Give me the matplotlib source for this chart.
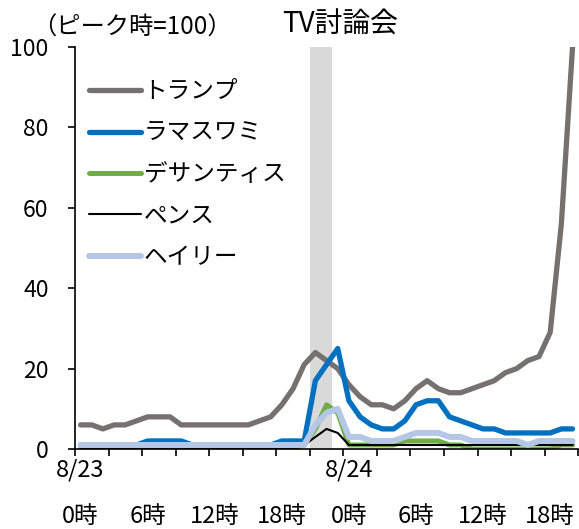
import matplotlib
matplotlib.use("Agg")
import matplotlib.pyplot as plt
import numpy as np

plt.rcParams['font.family'] = ['Noto Sans CJK JP', 'DejaVu Sans']

# hourly index: 8/23 0時 .. 8/24 20時
hours = np.arange(45)

trump = [6, 6, 5, 6, 6, 7, 8, 8, 8, 6, 6, 6, 6, 6, 6, 6, 7, 8, 11, 15,
         21, 24, 22, 20, 16, 13, 11, 11, 10, 12, 15, 17, 15, 14, 14, 15, 16, 17, 19, 20,
         22, 23, 29, 56, 100]
ramaswamy = [1, 1, 1, 1, 1, 1, 2, 2, 2, 2, 1, 1, 1, 1, 1, 1, 1, 1, 2, 2,
             2, 17, 21, 25, 12, 8, 6, 5, 5, 7, 11, 12, 12, 8, 7, 6, 5, 5, 4, 4,
             4, 4, 4, 5, 5]
desantis = [0, 0, 0, 0, 0, 0, 0, 0, 0, 0, 0, 0, 0, 0, 0, 0, 0, 0, 0, 0,
            1, 5, 11, 9, 1, 1, 1, 1, 1, 2, 2, 2, 2, 1, 1, 0, 0, 0, 0, 0,
            0, 0, 0, 1, 1]
pence = [0, 0, 0, 0, 0, 0, 0, 0, 0, 0, 0, 0, 0, 0, 0, 0, 0, 0, 0, 0,
         1, 3, 5, 4, 1, 1, 1, 1, 1, 1, 1, 1, 1, 1, 1, 1, 1, 1, 1, 1,
         1, 1, 1, 1, 1]
haley = [1, 1, 1, 1, 1, 1, 1, 1, 1, 1, 1, 1, 1, 1, 1, 1, 1, 1, 1, 1,
         1, 6, 9, 10, 3, 3, 2, 2, 2, 3, 4, 4, 4, 3, 3, 2, 2, 2, 2, 2,
         1, 2, 2, 2, 2]

series = [
    ("トランプ", trump, "#767171", 3.8),
    ("ラマスワミ", ramaswamy, "#0070C0", 3.8),
    ("デサンティス", desantis, "#70AD47", 3.6),
    ("ペンス", pence, "#000000", 1.5),
    ("ヘイリー", haley, "#B4C7E7", 4.3),
]

label_pos = [0, 6, 12, 18, 24, 30, 36, 42]
label_txt = ["0時", "6時", "12時", "18時", "0時", "6時", "12時", "18時"]
date_pos = [0, 24]
date_txt = ["8/23", "8/24"]
debate = (20.5, 22.5)

fig = plt.figure(figsize=(5.79, 5.29), dpi=100)
ax = fig.add_axes([0.1295, 0.1512, 0.869, 0.7599])

ax.axvspan(debate[0], debate[1], color="#D9D9D9", lw=0, zorder=0)

for name, vals, col, lw in series:
    ax.plot(hours, vals, color=col, lw=lw, label=name,
            solid_capstyle="round", solid_joinstyle="round", zorder=2)

ax.set_xlim(-0.5, 44.5)
ax.set_ylim(0, 100)
ax.set_yticks(np.arange(0, 101, 20))
ax.set_xticks(np.arange(-0.5, 45, 3))
ax.set_xticklabels([])

for s in ["top", "right"]:
    ax.spines[s].set_visible(False)
for s in ["left", "bottom"]:
    ax.spines[s].set_linewidth(1.2)
ax.tick_params(axis="both", direction="out", length=5, width=1.2)
ax.tick_params(axis="y", labelsize=16.5, pad=14)

tr = ax.get_xaxis_transform()
for p, t in zip(label_pos, label_txt):
    ax.text(p, -0.169, t, transform=tr, ha="center", va="center", fontsize=17)
for p, t in zip(date_pos, date_txt):
    ax.text(p, -0.052, t, transform=tr, ha="center", va="center", fontsize=17)

fig.text(32 / 579, 1 - 28 / 529, "（ピーク時=100）", ha="left", va="center", fontsize=17.5)
fig.text(282 / 579, 1 - 25 / 529, "TV討論会", ha="left", va="center", fontsize=20)

ax.legend(loc="upper left", bbox_to_anchor=(-0.005, 0.958), frameon=False, fontsize=17,
          handlelength=2.2, handletextpad=0.12, labelspacing=0.78, borderaxespad=0.3)

fig.savefig("out.png", dpi=100)
